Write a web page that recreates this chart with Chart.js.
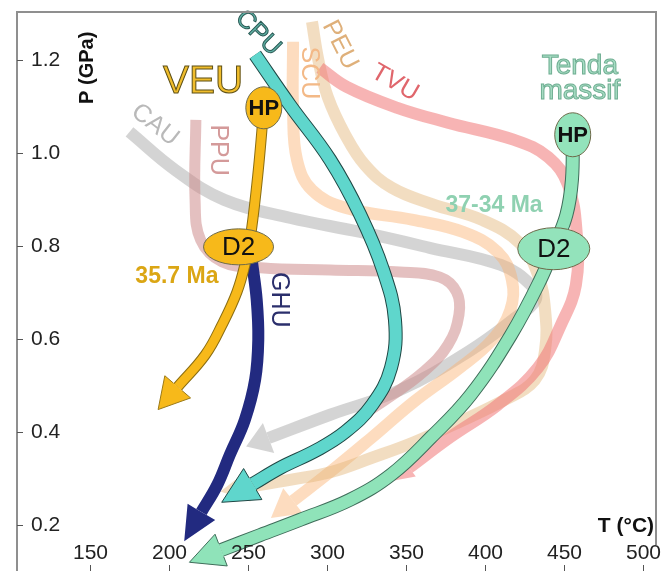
<!DOCTYPE html>
<html>
<head>
<meta charset="utf-8">
<script src="https://cdn.jsdelivr.net/npm/chart.js@4.4.1/dist/chart.umd.min.js"></script>
<style>
  html, body { margin: 0; padding: 0; background: #fff; }
  canvas { display: block; }
</style>
</head>
<body>
<canvas id="pt" width="662" height="571" style="width:662px;height:571px"></canvas>
<script>
// Axis ticks: temperature (°C) and pressure (GPa)
const tempTicks = [150, 200, 250, 300, 350, 400, 450, 500];
const presTicks = [0.2, 0.4, 0.6, 0.8, 1.0, 1.2];

// P–T paths, temperature (°C) and pressure (GPa) along each path
const cauT = [175, 204, 235, 277, 321, 365, 410, 429, 432, 419, 391, 346, 302, 263];
const cauP = [1.045, 0.963, 0.899, 0.860, 0.830, 0.796, 0.759, 0.716, 0.684, 0.645, 0.576, 0.490, 0.437, 0.387];

const ppuT = [217, 216.5, 220, 233.5, 258, 302, 346, 371.5, 382, 383.5, 376.5, 361, 337, 324];
const ppuP = [1.071, 0.899, 0.813, 0.766, 0.753, 0.748, 0.744, 0.733, 0.701, 0.652, 0.587, 0.529, 0.469, 0.441];

const scuT = [278.5, 278.5, 281, 290.5, 311.5, 354.5, 386, 408, 417, 416, 404.5, 384, 355, 328, 302, 278.5];
const scuP = [1.239, 1.092, 0.985, 0.920, 0.882, 0.856, 0.830, 0.787, 0.727, 0.662, 0.598, 0.538, 0.465, 0.387, 0.314, 0.252];

const peuT = [290.5, 294.5, 300.5, 311.5, 324, 341, 366.5, 398, 422, 433.5, 438, 438, 431.5, 412.5, 384, 355, 328, 302.5, 276.5, 250];
const peuP = [1.282, 1.200, 1.120, 1.039, 0.974, 0.925, 0.890, 0.856, 0.806, 0.738, 0.662, 0.576, 0.512, 0.469, 0.422, 0.378, 0.344, 0.314, 0.297, 0.282];

const tvuT = [295.5, 312.5, 344.5, 376.5, 418.5, 440, 452.5, 458, 457.5, 448, 433.5, 408, 378, 352];
const tvuP = [1.183, 1.142, 1.097, 1.065, 1.028, 0.991, 0.931, 0.828, 0.716, 0.630, 0.538, 0.458, 0.389, 0.323];

const tendaT = [455.5, 455, 451.5, 443.5, 435, 416.5, 391, 366, 340.5, 314.5, 283, 257.5, 233];
const tendaP = [1.039, 0.942, 0.867, 0.796, 0.727, 0.609, 0.480, 0.389, 0.308, 0.254, 0.211, 0.178, 0.146];

const cpuT = [254.5, 276.5, 302, 321, 335.5, 343, 340.5, 328.5, 311.5, 293.5, 270.5, 253];
const cpuP = [1.211, 1.103, 0.985, 0.867, 0.748, 0.641, 0.538, 0.458, 0.400, 0.361, 0.323, 0.288];

const ghuT = [252.5, 255.5, 256.5, 254.5, 248, 238.5, 230.5, 220.5];
const ghuP = [0.766, 0.684, 0.598, 0.512, 0.426, 0.351, 0.286, 0.228];

const veuT = [260, 256.5, 252, 248.5, 243, 233.5, 223, 205.5];
const veuP = [1.097, 0.963, 0.830, 0.766, 0.701, 0.630, 0.566, 0.497];

// Metamorphic stages (high-pressure peak and D2)
const stageNames = ['HP', 'D2', 'HP', 'D2'];
const stageT = [260, 244, 455.5, 443.5];
const stageP = [1.097, 0.798, 1.039, 0.794];

const FONT = "'Liberation Sans', Arial, Helvetica, sans-serif";

function pts(T, P) { return T.map((t, i) => ({ x: t, y: P[i] })); }

function band(T, P, color, width, order, head) {
  return {
    data: pts(T, P), showLine: true, fill: false,
    borderColor: color, borderWidth: width, tension: 0.4,
    borderCapStyle: 'butt', borderJoinStyle: 'round',
    pointRadius: 0, order: order, head: head || null
  };
}

const datasets = [
  band(cauT, cauP, 'rgba(196,196,196,0.72)', 12, 30, { len: 24, half: 16, fill: 'rgba(196,196,196,0.72)', band: 12 }),
  band(ppuT, ppuP, 'rgba(206,140,140,0.55)', 11, 29),
  band(scuT, scuP, 'rgba(250,178,112,0.45)', 12, 28, { len: 28, half: 16, fill: 'rgba(250,178,112,0.45)', band: 12 }),
  band(peuT, peuP, 'rgba(226,180,118,0.45)', 12, 27, { len: 28, half: 15, fill: 'rgba(226,180,118,0.45)', band: 12 }),
  band(tvuT, tvuP, 'rgba(240,118,118,0.55)', 12, 26, { len: 22, half: 11, fill: 'rgba(240,118,118,0.55)', band: 12 }),
  band(tendaT, tendaP, '#3f6d5a', 14, 25),
  band(tendaT, tendaP, '#8fe3b9', 12, 24, { len: 34, half: 17, fill: '#8fe3b9', stroke: '#3f6d5a', band: 14 }),
  band(cpuT, cpuP, '#1f4744', 14, 23),
  band(cpuT, cpuP, '#5fd6cc', 12, 22, { len: 36, half: 18, fill: '#5fd6cc', stroke: '#1f4744', band: 14 }),
  band(ghuT, ghuP, '#222a80', 12, 21, { len: 34, half: 16, fill: '#222a80', band: 12 }),
  band(veuT, veuP, '#8a6d12', 11, 20),
  band(veuT, veuP, '#f7b91a', 9, 19, { len: 30, half: 17, fill: '#f7b91a', stroke: '#9b7a18', band: 11 })
];

// Arrowheads at the end of each path, aligned with the final tangent
const arrowHeads = {
  id: 'arrowHeads',
  afterDatasetDraw(chart, args) {
    const ds = chart.data.datasets[args.index];
    if (!ds.head) return;
    const ctx = chart.ctx;
    const p = args.meta.data;
    const end = p[p.length - 1];
    let ref = p[p.length - 2];
    if (end.cp1x !== undefined && (Math.abs(end.cp1x - end.x) + Math.abs(end.cp1y - end.y)) > 0.5) {
      ref = { x: end.cp1x, y: end.cp1y };
    }
    let dx = end.x - ref.x, dy = end.y - ref.y;
    const d = Math.hypot(dx, dy) || 1; dx /= d; dy /= d;
    const nx = -dy, ny = dx;
    const h = ds.head;
    ctx.save();
    ctx.beginPath();
    ctx.moveTo(end.x + nx * h.band / 2, end.y + ny * h.band / 2);
    ctx.lineTo(end.x + nx * h.half, end.y + ny * h.half);
    ctx.lineTo(end.x + dx * h.len, end.y + dy * h.len);
    ctx.lineTo(end.x - nx * h.half, end.y - ny * h.half);
    ctx.lineTo(end.x - nx * h.band / 2, end.y - ny * h.band / 2);
    ctx.fillStyle = h.fill;
    ctx.fill();
    if (h.stroke) { ctx.strokeStyle = h.stroke; ctx.lineWidth = 1; ctx.stroke(); }
    ctx.restore();
  }
};

// Stage ellipses and path labels
const stageStyle = [
  { fill: '#f7b91a', rx: 18, ry: 21, font: 'bold 22px ' + FONT },
  { fill: '#f7b91a', rx: 35, ry: 18, font: '26px ' + FONT },
  { fill: '#93e3bb', rx: 18, ry: 22, font: 'bold 22px ' + FONT },
  { fill: '#93e3bb', rx: 36, ry: 21, font: '26px ' + FONT }
];

const labels = [
  { text: 'VEU', t: 221.5, p: 1.153, rot: 0, font: '39px ' + FONT, fill: '#f0bd2c', stroke: '#5e5016' },
  { text: '35.7 Ma', t: 205, p: 0.733, rot: 0, font: 'bold 23px ' + FONT, fill: '#dba614' },
  { text: 'GHU', t: 269.6, p: 0.684, rot: 90, font: '25px ' + FONT, fill: '#2b2f6c' },
  { text: 'CPU', t: 256.3, p: 1.258, rot: 45, font: '25px ' + FONT, fill: '#5fb2a6', stroke: '#2b5a55' },
  { text: 'CAU', t: 191.1, p: 1.060, rot: 38, font: '25px ' + FONT, fill: '#b9b9b9' },
  { text: 'PPU', t: 231, p: 1.006, rot: 90, font: '25px ' + FONT, fill: '#d49a9a' },
  { text: 'SCU', t: 288.6, p: 1.172, rot: 90, font: '25px ' + FONT, fill: '#f3b987' },
  { text: 'PEU', t: 308.2, p: 1.232, rot: 63, font: '25px ' + FONT, fill: '#dfb07a' },
  { text: 'TVU', t: 343, p: 1.151, rot: 30, font: '25px ' + FONT, fill: '#e0666c' },
  { text: 'Tenda', t: 460, p: 1.187, rot: 0, font: '28px ' + FONT, fill: '#a6dcc3', stroke: '#6fae92' },
  { text: 'massif', t: 460, p: 1.133, rot: 0, font: '28px ' + FONT, fill: '#a6dcc3', stroke: '#6fae92' },
  { text: '37-34 Ma', t: 405.7, p: 0.886, rot: 0, font: 'bold 23px ' + FONT, fill: '#8fd1b1' },
  { text: 'P (GPa)', t: 148.1, p: 1.183, rot: -90, font: 'bold 20px ' + FONT, fill: '#111' },
  { text: 'T (°C)', t: 489.2, p: 0.198, rot: 0, font: 'bold 21px ' + FONT, fill: '#111' }
];

const overlay = {
  id: 'overlay',
  afterDatasetsDraw(chart) {
    const ctx = chart.ctx, xs = chart.scales.x, ys = chart.scales.y;
    ctx.save();
    stageNames.forEach((name, i) => {
      const s = stageStyle[i];
      const cx = xs.getPixelForValue(stageT[i]), cy = ys.getPixelForValue(stageP[i]);
      ctx.beginPath();
      ctx.ellipse(cx, cy, s.rx, s.ry, 0, 0, Math.PI * 2);
      ctx.fillStyle = s.fill; ctx.fill();
      ctx.lineWidth = 1; ctx.strokeStyle = '#6d6a4a'; ctx.stroke();
      ctx.font = s.font; ctx.fillStyle = '#111';
      ctx.textAlign = 'center'; ctx.textBaseline = 'middle';
      ctx.fillText(name, cx, cy + 1);
    });
    labels.forEach(l => {
      const x = xs.getPixelForValue(l.t), y = ys.getPixelForValue(l.p);
      ctx.save();
      ctx.translate(x, y);
      ctx.rotate(l.rot * Math.PI / 180);
      ctx.font = l.font;
      ctx.textAlign = 'center'; ctx.textBaseline = 'middle';
      ctx.fillStyle = l.fill;
      ctx.fillText(l.text, 0, 0);
      if (l.stroke) { ctx.lineWidth = 1; ctx.strokeStyle = l.stroke; ctx.strokeText(l.text, 0, 0); }
      ctx.restore();
    });
    ctx.restore();
  },
  afterDraw(chart) {
    const ctx = chart.ctx, xs = chart.scales.x, ys = chart.scales.y;
    const a = chart.chartArea;
    ctx.save();
    // frame
    ctx.strokeStyle = '#8f8f8f'; ctx.lineWidth = 2;
    ctx.beginPath();
    ctx.moveTo(a.left, chart.height); ctx.lineTo(a.left, a.top);
    ctx.lineTo(a.right, a.top); ctx.lineTo(a.right, a.top + 533);
    ctx.stroke();
    // pressure ticks, drawn inside the frame
    ctx.strokeStyle = '#555'; ctx.lineWidth = 1;
    ctx.fillStyle = '#222'; ctx.font = '21px ' + FONT;
    ctx.textAlign = 'left'; ctx.textBaseline = 'middle';
    presTicks.forEach(v => {
      const y = Math.round(ys.getPixelForValue(v)) + 0.5;
      ctx.beginPath(); ctx.moveTo(a.left, y); ctx.lineTo(a.left + 6, y); ctx.stroke();
      ctx.fillText(v.toFixed(1), a.left + 14, y);
    });
    // temperature ticks along the bottom
    ctx.textAlign = 'center';
    tempTicks.forEach(v => {
      const x = Math.round(xs.getPixelForValue(v)) + 0.5;
      ctx.beginPath(); ctx.moveTo(x, a.bottom - 6); ctx.lineTo(x, a.bottom); ctx.stroke();
      ctx.fillText(String(v), x, a.bottom - 18);
    });
    ctx.restore();
  }
};

new Chart(document.getElementById('pt'), {
  type: 'scatter',
  data: { datasets },
  options: {
    responsive: false,
    animation: false,
    devicePixelRatio: 1,
    layout: { padding: { left: 17, top: 12, right: 6, bottom: 0 } },
    scales: {
      x: { type: 'linear', min: 103.8, max: 508.2, display: false },
      y: { type: 'linear', min: 0.101, max: 1.303, display: false }
    },
    plugins: { legend: { display: false }, tooltip: { enabled: false } },
    elements: { point: { radius: 0 } }
  },
  plugins: [arrowHeads, overlay]
});
</script>
</body>
</html>
